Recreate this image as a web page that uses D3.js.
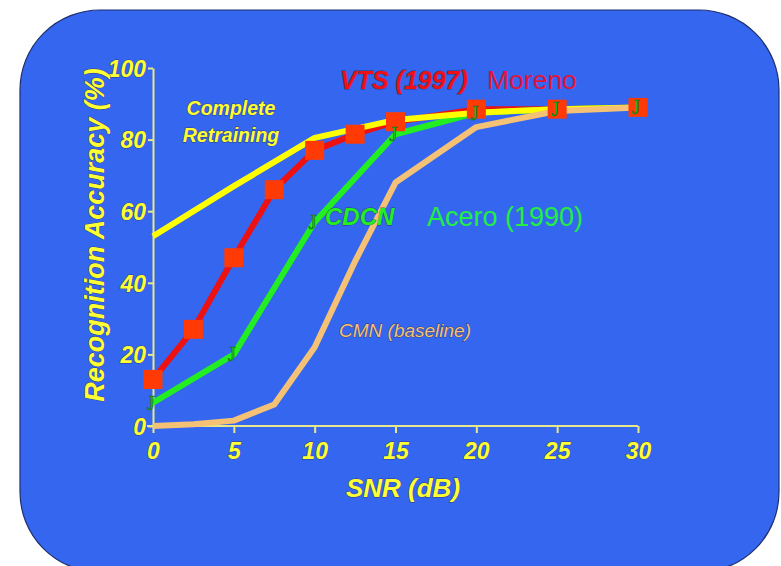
<!DOCTYPE html>
<html>
<head>
<meta charset="utf-8">
<script src="https://cdn.jsdelivr.net/npm/d3@7"></script>
<style>
body { margin: 0; background: #fff; }
svg text { font-family: "Liberation Sans", Arial, sans-serif; }
</style>
</head>
<body>
<svg id="chart" width="781" height="566"></svg>
<script>
// SNR points (dB)
var snr = [0, 2.5, 5, 7.5, 10, 12.5, 15, 20, 25, 30];
var vts = [13, 27, 47, 66, 77, 81.5, 85, 88.5, 88.5, 89];
var cmn = [0, 0.5, 1.5, 6, 22, 46, 68, 83.5, 88, 89];
var snr2 = [0, 5, 10, 15, 20, 25, 30];
var retrain = [53, 67, 80.5, 85.5, 87.5, 88.5, 89];
var cdcn = [6.5, 20, 57, 81.5, 87.5, 88.5, 89];
var xTicks = [0, 5, 10, 15, 20, 25, 30];
var yTicks = [0, 20, 40, 60, 80, 100];

var svg = d3.select("#chart");

svg.append("rect")
  .attr("x", 20).attr("y", 10)
  .attr("width", 759).attr("height", 562)
  .attr("rx", 80).attr("ry", 80)
  .attr("fill", "#3566ef")
  .attr("stroke", "#1d2f6e").attr("stroke-width", 1.2);

var x = d3.scaleLinear().domain([0, 30]).range([153, 638]);
var y = d3.scaleLinear().domain([0, 100]).range([426, 68]);

function outline(sel, c) {
  sel.attr("stroke", c || "#2a2a40").attr("stroke-width", 0.9)
    .attr("stroke-opacity", 0.7).attr("paint-order", "stroke");
}

// axes
var xAxis = svg.append("g").attr("transform", "translate(0,426)")
  .call(d3.axisBottom(x).tickValues(xTicks).tickSize(7).tickSizeOuter(0).tickPadding(4));
var yAxis = svg.append("g").attr("transform", "translate(153,0)")
  .call(d3.axisLeft(y).tickValues(yTicks).tickSize(5).tickSizeOuter(0).tickPadding(2));

[xAxis, yAxis].forEach(function(ax) {
  ax.select(".domain").attr("stroke", "#e6e88a").attr("stroke-width", 2);
  ax.selectAll(".tick line").attr("stroke", "#e6e88a").attr("stroke-width", 2);
  ax.selectAll(".tick text")
    .attr("fill", "#ffff33")
    .style("font-family", "'Liberation Sans', Arial, sans-serif")
    .style("font-size", "23px").style("font-weight", "bold").style("font-style", "italic")
    .call(outline);
});
xAxis.select(".domain").attr("d", "M147,0H638");
xAxis.selectAll(".tick text").attr("dy", "0.95em");
yAxis.selectAll(".tick text").attr("dy", "0.36em");

// axis titles
svg.append("text")
  .attr("transform", "translate(104,235) rotate(-90)")
  .attr("text-anchor", "middle")
  .attr("fill", "#ffff33")
  .style("font-size", "27px").style("font-weight", "bold").style("font-style", "italic")
  .text("Recognition Accuracy (%)").call(outline);

svg.append("text")
  .attr("x", 403).attr("y", 497)
  .attr("text-anchor", "middle")
  .attr("fill", "#ffff33")
  .style("font-size", "26px").style("font-weight", "bold").style("font-style", "italic")
  .text("SNR (dB)").call(outline);

// lines
var line = d3.line()
  .x(function(d) { return x(d[0]); })
  .y(function(d) { return y(d[1]); });

var series = [
  { xs: snr, ys: vts, color: "#ee1111" },
  { xs: snr2, ys: cdcn, color: "#22ee22" },
  { xs: snr2, ys: retrain, color: "#ffff00" },
  { xs: snr, ys: cmn, color: "#f5c275" }
];

series.forEach(function(s) {
  svg.append("path")
    .datum(d3.zip(s.xs, s.ys))
    .attr("d", line)
    .attr("fill", "none")
    .attr("stroke", s.color)
    .attr("stroke-width", 6)
    .attr("stroke-linejoin", "round");
});

// VTS squares
svg.append("g").selectAll("rect")
  .data(d3.zip(snr, vts)).enter().append("rect")
  .attr("x", function(d) { return x(d[0]) - 9.5; })
  .attr("y", function(d) { return y(d[1]) - 9.5; })
  .attr("width", 19).attr("height", 19)
  .attr("fill", "#ff3a05");

// CDCN "J" markers
svg.append("g").selectAll("text")
  .data(d3.zip(snr2, cdcn)).enter().append("text")
  .attr("x", function(d) { return x(d[0]) - 2; })
  .attr("y", function(d) { return y(d[1]) + 7; })
  .attr("text-anchor", "middle")
  .attr("fill", "#22cc22")
  .attr("stroke", "#116611").attr("stroke-width", 0.6)
  .style("font-family", "'Liberation Serif', serif")
  .style("font-size", "20px")
  .text("J");

// labels
var labels = [
  { t: "VTS (1997)", x: 340, y: 89, c: "#ee1018", s: 25, w: "bold", i: "italic" },
  { t: "Moreno", x: 487, y: 89, c: "#e0133a", s: 26.5, w: "normal", i: "normal" },
  { t: "Complete", x: 231, y: 115, c: "#ffff33", s: 19.5, w: "bold", i: "italic", a: "middle" },
  { t: "Retraining", x: 231, y: 142, c: "#ffff33", s: 19.5, w: "bold", i: "italic", a: "middle" },
  { t: "CDCN", x: 325, y: 225, c: "#22ee22", s: 24, w: "bold", i: "italic" },
  { t: "Acero (1990)", x: 427, y: 226, c: "#22ee44", s: 27, w: "normal", i: "normal" },
  { t: "CMN (baseline)", x: 339, y: 337, c: "#f5c275", s: 19, w: "normal", i: "italic" }
];

svg.append("g").selectAll("text")
  .data(labels).enter().append("text")
  .attr("x", function(d) { return d.x; })
  .attr("y", function(d) { return d.y; })
  .attr("text-anchor", function(d) { return d.a || "start"; })
  .attr("fill", function(d) { return d.c; })
  .style("font-size", function(d) { return d.s + "px"; })
  .style("font-weight", function(d) { return d.w; })
  .style("font-style", function(d) { return d.i; })
  .text(function(d) { return d.t; })
  .each(function(d) { if (d.w == "bold" || d.i == "italic") d3.select(this).call(outline); });
</script>
</body>
</html>
